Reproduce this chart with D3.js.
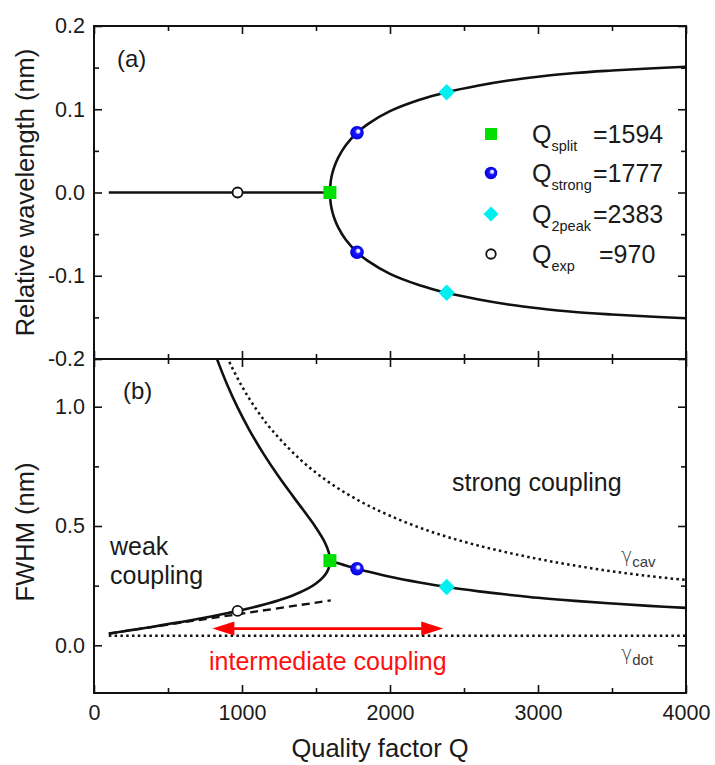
<!DOCTYPE html>
<html>
<head>
<meta charset="utf-8">
<script src="https://cdn.jsdelivr.net/npm/d3@7"></script>
<style>
  html, body { margin: 0; padding: 0; background: #ffffff; }
  svg { display: block; font-family: "Liberation Sans", Arial, sans-serif; }
</style>
</head>
<body>
<svg id="chart" width="715" height="765"></svg>
<script>
// ---------- tick values ----------
const xTicks = [0, 1000, 2000, 3000, 4000];
const xMinorTicks = [500, 1500, 2500, 3500];
const shiftTicks = [-0.2, -0.1, 0.0, 0.1, 0.2];
const shiftMinorTicks = [-0.15, -0.05, 0.05, 0.15];
const widthTicks = [0.0, 0.5, 1.0];
const widthMinorTicks = [0.25, 0.75];

// ---------- (a) mode positions vs. Q ----------
const flatQ     = [100, 1594];
const flatShift = [0, 0];
const splitQ     = [1594, 1600, 1610, 1625, 1650, 1700, 1777, 1850, 2000, 2200, 2383, 2600, 2800, 3000, 3250, 3500, 3750, 4000];
const upperShift = [0, 0.014, 0.0228, 0.0315, 0.0419, 0.0564, 0.0717, 0.0822, 0.0977, 0.1114, 0.1205, 0.1285, 0.1345, 0.139, 0.1435, 0.1465, 0.149, 0.151];
const lowerShift = [0, -0.014, -0.0228, -0.0315, -0.0419, -0.0564, -0.0717, -0.0822, -0.0977, -0.1114, -0.1205, -0.1285, -0.1345, -0.139, -0.1435, -0.1465, -0.149, -0.151];

// ---------- (b) linewidths vs. Q ----------
// weak coupling: cavity-like branch and dot-like branch meet at Q_split
const cavBranchQ = [800, 850, 900, 970, 1050, 1150, 1250, 1350, 1450, 1500, 1550, 1570, 1585, 1590, 1593, 1594];
const cavBranchW = [1.253, 1.169, 1.092, 0.997, 0.902, 0.798, 0.705, 0.620, 0.537, 0.493, 0.443, 0.417, 0.392, 0.379, 0.367, 0.355];
const dotBranchQ = [1594, 1593, 1590, 1585, 1570, 1550, 1500, 1450, 1350, 1250, 1150, 1050, 970, 900, 800, 700, 600, 500, 400, 300, 200, 100];
const dotBranchW = [0.355, 0.3435, 0.333, 0.322, 0.303, 0.287, 0.259, 0.240, 0.211, 0.189, 0.171, 0.155, 0.144, 0.134, 0.122, 0.110, 0.099, 0.089, 0.078, 0.068, 0.059, 0.049];
// strong coupling: common linewidth of both polaritons
const strongQ = [1594, 1650, 1700, 1777, 1850, 2000, 2200, 2383, 2600, 2800, 3000, 3250, 3500, 3750, 4000];
const strongW = [0.355, 0.344, 0.334, 0.321, 0.309, 0.287, 0.263, 0.244, 0.226, 0.212, 0.199, 0.186, 0.175, 0.165, 0.157];
// bare cavity linewidth
const gammaCavQ = [850, 900, 1000, 1100, 1200, 1400, 1600, 1800, 2000, 2250, 2500, 2750, 3000, 3250, 3500, 3750, 4000];
const gammaCavW = [1.276, 1.206, 1.085, 0.986, 0.904, 0.775, 0.678, 0.603, 0.543, 0.482, 0.434, 0.395, 0.362, 0.334, 0.310, 0.290, 0.274];
// bare dot linewidth
const gammaDotQ = [100, 4000];
const gammaDotW = [0.04, 0.04];
// weak-coupling (Purcell) approximation
const purcellQ = [100, 600, 1100, 1600];
const purcellW = [0.049, 0.096, 0.142, 0.188];
// intermediate coupling range
const arrowQ = [800, 2360];
const arrowW = 0.07;

// ---------- characteristic Q values ----------
const markerKeys   = ["split", "strong", "2peak", "exp"];
const markerQ      = [1594, 1777, 2383, 970];
const markerShifts = [[0], [0.0717, -0.0717], [0.1205, -0.1205], [0]];
const markerWidth  = [0.355, 0.321, 0.244, 0.144];

// ---------- layout ----------
const svg = d3.select("#chart");
const left = 94, right = 686;
const topA = 26, mid = 359, botB = 693;

const x  = d3.scaleLinear().domain([0, 4000]).range([left, right]);
const yA = d3.scaleLinear().domain([-0.2, 0.2]).range([mid, topA]);
const yB = d3.scaleLinear().domain([-0.2, 1.2]).range([botB, mid]);

const ink = "#111";
const defs = svg.append("defs");
defs.append("clipPath").attr("id", "clipA").append("rect")
  .attr("x", left).attr("y", topA).attr("width", right - left).attr("height", mid - topA);
defs.append("clipPath").attr("id", "clipB").append("rect")
  .attr("x", left).attr("y", mid).attr("width", right - left).attr("height", botB - mid);
const ball = defs.append("radialGradient").attr("id", "ball")
  .attr("cx", "50%").attr("cy", "50%").attr("r", "50%").attr("fx", "62%").attr("fy", "36%");
ball.append("stop").attr("offset", "0%").attr("stop-color", "#ffffff");
ball.append("stop").attr("offset", "22%").attr("stop-color", "#dcdcff");
ball.append("stop").attr("offset", "42%").attr("stop-color", "#1a1aff");
ball.append("stop").attr("offset", "100%").attr("stop-color", "#0000dd");

const fmt = d => d.toFixed(1);

// ---------- frames and ticks ----------
function ticks(axisGen, values, size, tx, ty, labels, pad) {
  const a = axisGen.tickValues(values).tickSize(-size).tickSizeOuter(0)
    .tickPadding(pad || 0).tickFormat(labels ? labels : "");
  const g = svg.append("g").attr("transform", `translate(${tx},${ty})`).call(a);
  g.select(".domain").remove();
  g.selectAll(".tick line").attr("stroke", ink).attr("stroke-width", 1.6);
  g.selectAll(".tick text").attr("fill", "#1a1a1a").attr("font-size", 21.5)
    .attr("font-family", "'Liberation Sans', Arial, sans-serif");
  return g;
}

function panelTicks(yScale, major, minor, yTop, yBot, ylab, xlab) {
  ticks(d3.axisLeft(yScale), major, 8, left, 0, ylab ? fmt : null, 9);
  ticks(d3.axisLeft(yScale), minor, 5, left, 0);
  ticks(d3.axisRight(yScale), major, 8, right, 0);
  ticks(d3.axisRight(yScale), minor, 5, right, 0);
  ticks(d3.axisTop(x), xTicks, 8, 0, yTop);
  ticks(d3.axisTop(x), xMinorTicks, 5, 0, yTop);
  ticks(d3.axisBottom(x), xTicks, 8, 0, yBot, xlab ? (d => String(d)) : null, 12);
  ticks(d3.axisBottom(x), xMinorTicks, 5, 0, yBot);
}
panelTicks(yA, shiftTicks, shiftMinorTicks, topA, mid, true, false);
panelTicks(yB, widthTicks, widthMinorTicks, mid, botB, true, true);

svg.append("rect").attr("x", left).attr("y", topA).attr("width", right - left).attr("height", botB - topA)
  .attr("fill", "none").attr("stroke", ink).attr("stroke-width", 2);
svg.append("line").attr("x1", left).attr("x2", right).attr("y1", mid).attr("y2", mid)
  .attr("stroke", ink).attr("stroke-width", 2);

// ---------- axis titles ----------
svg.append("text").attr("transform", `translate(34,${(topA + mid) / 2}) rotate(-90)`)
  .attr("text-anchor", "middle").attr("font-size", 25.5).attr("fill", "#1a1a1a")
  .text("Relative wavelength (nm)");
svg.append("text").attr("transform", `translate(34,532) rotate(-90)`)
  .attr("text-anchor", "middle").attr("font-size", 25.5).attr("fill", "#1a1a1a")
  .text("FWHM (nm)");
svg.append("text").attr("x", 380).attr("y", 757).attr("text-anchor", "middle")
  .attr("font-size", 25.5).attr("fill", "#1a1a1a").text("Quality factor Q");

// ---------- curves ----------
const zip = (qs, vs) => qs.map((q, i) => [q, vs[i]]);
const lineA = d3.line().x(d => x(d[0])).y(d => yA(d[1])).curve(d3.curveCatmullRom.alpha(0.5));
const lineB = d3.line().x(d => x(d[0])).y(d => yB(d[1])).curve(d3.curveCatmullRom.alpha(0.5));

const gA = svg.append("g").attr("clip-path", "url(#clipA)");
const gB = svg.append("g").attr("clip-path", "url(#clipB)");

const solid = (g, d) => g.append("path").attr("d", d).attr("fill", "none")
  .attr("stroke", ink).attr("stroke-width", 2.6).attr("stroke-linejoin", "round");

// panel (a)
solid(gA, lineA(zip(flatQ, flatShift)));
const splitPath = zip(splitQ, upperShift).reverse().concat(zip(splitQ, lowerShift).slice(1));
solid(gA, lineA(splitPath));

// panel (b)
gB.append("path").attr("d", lineB(zip(gammaCavQ, gammaCavW))).attr("fill", "none")
  .attr("stroke", ink).attr("stroke-width", 2.5).attr("stroke-dasharray", "2.5,3.3");
gB.append("path").attr("d", lineB(zip(gammaDotQ, gammaDotW))).attr("fill", "none")
  .attr("stroke", ink).attr("stroke-width", 2.5).attr("stroke-dasharray", "2.5,3.3");
gB.append("path").attr("d", lineB(zip(purcellQ, purcellW))).attr("fill", "none")
  .attr("stroke", ink).attr("stroke-width", 2.3).attr("stroke-dasharray", "8,5");
solid(gB, lineB(zip(cavBranchQ, cavBranchW).concat(zip(dotBranchQ, dotBranchW).slice(1))));
solid(gB, lineB(zip(strongQ, strongW)));

// intermediate-coupling arrow
const ax1 = x(arrowQ[0]), ax2 = x(arrowQ[1]), ay = yB(arrowW);
const headL = 22, headW = 7;
svg.append("line").attr("x1", ax1 + headL - 2).attr("x2", ax2 - headL + 2).attr("y1", ay).attr("y2", ay)
  .attr("stroke", "#ff0000").attr("stroke-width", 2.6);
svg.append("path").attr("fill", "#ff0000")
  .attr("d", `M${ax1},${ay} L${ax1 + headL},${ay - headW} L${ax1 + headL},${ay + headW} Z`);
svg.append("path").attr("fill", "#ff0000")
  .attr("d", `M${ax2},${ay} L${ax2 - headL},${ay - headW} L${ax2 - headL},${ay + headW} Z`);

// ---------- markers ----------
function marker(g, key, cx, cy, scale) {
  const s = scale || 1;
  if (key === "split") {
    const h = 6.5 * s;
    g.append("rect").attr("x", cx - h).attr("y", cy - h).attr("width", 2 * h).attr("height", 2 * h)
      .attr("fill", "#00e000");
  } else if (key === "strong") {
    g.append("circle").attr("cx", cx).attr("cy", cy).attr("r", 6.8 * s).attr("fill", "url(#ball)");
  } else if (key === "2peak") {
    const h = 8.2 * s;
    g.append("path").attr("fill", "#00f0f0")
      .attr("d", `M${cx},${cy - h} L${cx + h},${cy} L${cx},${cy + h} L${cx - h},${cy} Z`);
  } else {
    g.append("circle").attr("cx", cx).attr("cy", cy).attr("r", 5 * s)
      .attr("fill", "#fff").attr("stroke", ink).attr("stroke-width", 1.8);
  }
}
const gm = svg.append("g");
markerKeys.forEach((k, i) => {
  markerShifts[i].forEach(v => marker(gm, k, x(markerQ[i]), yA(v)));
  marker(gm, k, x(markerQ[i]), yB(markerWidth[i]));
});

// ---------- legend ----------
const legend = svg.append("g");
const legRowY = [134, 173, 214, 254];
const legValueX = [593, 593, 593, 599];
markerKeys.forEach((k, i) => {
  const cy = legRowY[i];
  marker(legend, k, 491, cy, k === "exp" ? 0.95 : 0.92);
  const t = legend.append("text").attr("x", 532).attr("y", cy + 9)
    .attr("font-size", 25).attr("fill", "#1a1a1a");
  t.append("tspan").text("Q");
  t.append("tspan").attr("dy", 8).attr("font-size", 14.5).text(k);
  legend.append("text").attr("x", legValueX[i]).attr("y", cy + 9)
    .attr("font-size", 25).attr("fill", "#1a1a1a").text("=" + markerQ[i]);
});

// ---------- annotations ----------
const note = (tx, ty, str, opts) => {
  const o = opts || {};
  return svg.append("text").attr("x", tx).attr("y", ty).attr("font-size", o.size || 25)
    .attr("fill", o.fill || "#1a1a1a").text(str);
};
note(117, 67, "(a)", { size: 24 });
note(123, 399, "(b)", { size: 24 });
note(110, 555, "weak");
note(110, 584, "coupling");
note(452, 491, "strong coupling");
note(209, 670, "intermediate coupling", { fill: "#ff1010" });

function gammaLabel(tx, ty, sub) {
  const t = svg.append("text").attr("x", tx).attr("y", ty).attr("fill", "#3a3a3a");
  t.append("tspan").attr("font-size", 19).attr("font-family", "'DejaVu Sans', sans-serif")
    .attr("font-weight", 300).text("γ");
  t.append("tspan").attr("font-size", 15).attr("dy", 5).text(sub);
}
gammaLabel(621, 562, "cav");
gammaLabel(621, 660, "dot");
</script>
</body>
</html>
